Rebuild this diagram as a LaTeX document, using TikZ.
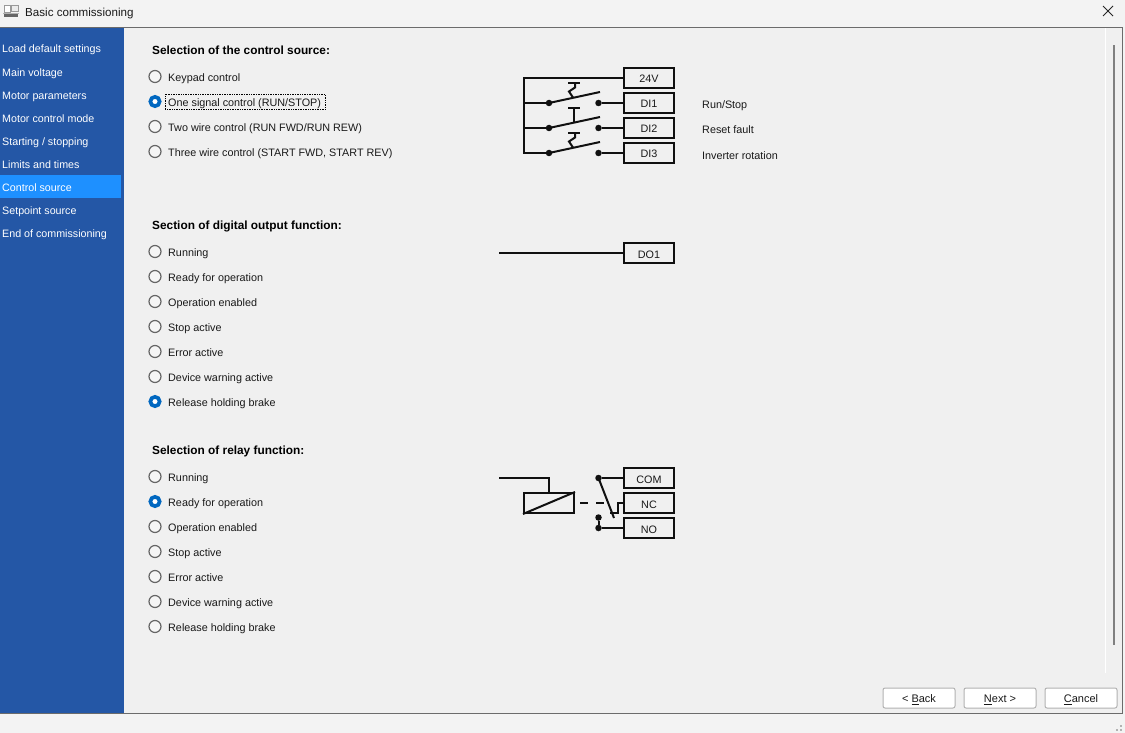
\documentclass[tikz,border=0pt]{standalone}
\usepackage{fontspec}
\setmainfont{Liberation Sans}
\usetikzlibrary{positioning}

\definecolor{panelbg}{HTML}{F0F0F0}
\definecolor{titlebg}{HTML}{F3F3F3}
\definecolor{navblue}{HTML}{2457A6}
\definecolor{navsel}{HTML}{1E90FF}
\definecolor{radioblue}{HTML}{0067C0}
\definecolor{framegray}{HTML}{6B6B6B}
\definecolor{wirecol}{HTML}{101010}

\tikzset{
	navtext/.style={anchor=base west, inner sep=0, text=white, font=\fontsize{10.7}{13}\selectfont},
	itemtext/.style={anchor=base west, inner sep=0, text=black!90, font=\fontsize{10.8}{13}\selectfont},
	headtext/.style={anchor=base west, inner sep=0, text=black, font=\fontsize{11.85}{13}\selectfont\bfseries},
	radio/.style={circle, draw=black!60, fill=black!4, line width=1.2pt, minimum size=12pt, inner sep=0},
	radioon/.style={circle, draw=radioblue, fill=white, line width=3.7pt, minimum size=9.3pt, inner sep=0},
	termbox/.style={draw=wirecol, line width=2pt, minimum width=50pt, minimum height=20pt, inner sep=0, text height=10pt, text depth=0pt, text=black!90, font=\fontsize{10.8}{13}\selectfont},
	dot/.style={circle, fill=wirecol, minimum size=6.5pt, inner sep=0},
	wire/.style={draw=wirecol, line width=2pt},
	btn/.style={draw=black!30, rounded corners=2pt, fill=white, line width=1pt, minimum width=72pt, minimum height=20pt, inner sep=0, text height=9pt, text depth=0pt, text=black!90, font=\fontsize{11}{13}\selectfont},
}

\begin{document}
\begin{tikzpicture}[x=1pt, y=-1pt]

	\useasboundingbox (0,0) rectangle (1125,733);
	\fill[titlebg] (0,0) rectangle (1125,733);

	\fill[panelbg] (0,27) rectangle (1122,713); % content
	\fill[navblue] (0,28) rectangle (124,713); % sidebar
	\fill[navsel] (0,175) rectangle (121,198);
	\draw[framegray, line width=1.2pt] (0,27.5) -- (1122.5,27.5) -- (1122.5,713.5) -- (0,713.5);

	\draw[black!40, line width=.8pt, fill=white] (4.5,5.5) rectangle (10.5,12); % title icon
	\draw[black!40, line width=.8pt, fill=black!8] (11,5) rectangle (18,11);
	\fill[black!60] (4,14) rectangle (18,17);
	\draw[black!30, line width=.6pt] (3,13) -- (19,13);
	\node (title) [itemtext, font=\fontsize{11.6}{14}\selectfont] at (25,16.5) {Basic commissioning};
	\draw[black!85, line width=1pt] (1103,6) -- (1113,16);
	\draw[black!85, line width=1pt] (1113,6) -- (1103,16);

	\node (nav1) [navtext] at (2,53) {Load default settings};
	\node (nav2) [navtext] at (2,76.5) {Main voltage};
	\node (nav3) [navtext] at (2,99.5) {Motor parameters};
	\node (nav4) [navtext] at (2,122.5) {Motor control mode};
	\node (nav5) [navtext] at (2,145.5) {Starting / stopping};
	\node (nav6) [navtext] at (2,168.5) {Limits and times};
	\node (nav7) [navtext] at (2,191.5) {Control source};
	\node (nav8) [navtext] at (2,214.5) {Setpoint source};
	\node (nav9) [navtext] at (2,237.5) {End of commissioning};

	\node (headsrc) [headtext] at (152,55) {Selection of the control source:};
	\node (headdo) [headtext] at (152,229.5) {Section of digital output function:};
	\node (headrel) [headtext] at (152,454.5) {Selection of relay function:};

	\node (src1) [radio] at (155,76.5) {};
	\node (src2) [radioon] at (155,101.5) {};
	\node (src3) [radio] at (155,126.5) {};
	\node (src4) [radio] at (155,151.5) {};
	\node (src1text) [itemtext] at (168,81.3) {Keypad control};
	\node (src2text) [itemtext] at (168,106.3) {One signal control (RUN/STOP)};
	\node (src3text) [itemtext] at (168,131.3) {Two wire control (RUN FWD/RUN REW)};
	\node (src4text) [itemtext] at (168,156.3) {Three wire control (START FWD, START REV)};
	\draw[black, densely dotted, line width=.7pt] (165,94.5) rectangle (325,109.5); % focus

	\node (do1) [radio] at (155,251.5) {};
	\node (do2) [radio] at (155,276.5) {};
	\node (do3) [radio] at (155,301.5) {};
	\node (do4) [radio] at (155,326.5) {};
	\node (do5) [radio] at (155,351.5) {};
	\node (do6) [radio] at (155,376.5) {};
	\node (do7) [radioon] at (155,401.5) {};
	\node (do1text) [itemtext] at (168,256.3) {Running};
	\node (do2text) [itemtext] at (168,281.3) {Ready for operation};
	\node (do3text) [itemtext] at (168,306.3) {Operation enabled};
	\node (do4text) [itemtext] at (168,331.3) {Stop active};
	\node (do5text) [itemtext] at (168,356.3) {Error active};
	\node (do6text) [itemtext] at (168,381.3) {Device warning active};
	\node (do7text) [itemtext] at (168,406.3) {Release holding brake};

	\node (rel1) [radio] at (155,476.5) {};
	\node (rel2) [radioon] at (155,501.5) {};
	\node (rel3) [radio] at (155,526.5) {};
	\node (rel4) [radio] at (155,551.5) {};
	\node (rel5) [radio] at (155,576.5) {};
	\node (rel6) [radio] at (155,601.5) {};
	\node (rel7) [radio] at (155,626.5) {};
	\node (rel1text) [itemtext] at (168,481.3) {Running};
	\node (rel2text) [itemtext] at (168,506.3) {Ready for operation};
	\node (rel3text) [itemtext] at (168,531.3) {Operation enabled};
	\node (rel4text) [itemtext] at (168,556.3) {Stop active};
	\node (rel5text) [itemtext] at (168,581.3) {Error active};
	\node (rel6text) [itemtext] at (168,606.3) {Device warning active};
	\node (rel7text) [itemtext] at (168,631.3) {Release holding brake};

	\node (box24) [termbox] at (649,78) {24V};
	\node (boxdi1) [termbox] at (649,103) {DI1};
	\node (boxdi2) [termbox] at (649,128) {DI2};
	\node (boxdi3) [termbox] at (649,153) {DI3};
	\node (lblrun) [itemtext] at (702,109) {Run/Stop};
	\node (lblreset) [itemtext] at (702,134) {Reset fault};
	\node (lblinv) [itemtext] at (702,159.3) {Inverter rotation};

	\coordinate (bus1) at (524,78);
	\coordinate (bus2) at (524,103);
	\coordinate (bus3) at (524,128);
	\coordinate (bus4) at (524,153);
	\node (sl1) [dot] at (549,103) {};
	\node (sl2) [dot] at (549,128) {};
	\node (sl3) [dot] at (549,153) {};
	\node (sr1) [dot] at (598.5,103) {};
	\node (sr2) [dot] at (598.5,128) {};
	\node (sr3) [dot] at (598.5,153) {};
	\coordinate (tip1) at (600,92);
	\coordinate (tip2) at (600,117);
	\coordinate (tip3) at (600,142);

	\draw[wire] (box24) -- (bus1) -- (bus4) -- (sl3); % supply bus
	\draw[wire] (bus2) -- (sl1);
	\draw[wire] (bus3) -- (sl2);
	\draw[wire] (sl1.center) -- (tip1);
	\draw[wire] (sl2.center) -- (tip2);
	\draw[wire] (sl3.center) -- (tip3);
	\draw[wire] (sr1) -- (boxdi1);
	\draw[wire] (sr2) -- (boxdi2);
	\draw[wire] (sr3) -- (boxdi3);

	\draw[wire] (568,83) -- (580,83); % di1 push button
	\draw[wire] (575,83) -- (575,87.5) -- (569,91.5) -- (573,97.5);
	\draw[wire] (568,108) -- (580,108); % di2 push button
	\draw[wire] (574,108) -- (574,122);
	\draw[wire] (568,133) -- (580,133); % di3 push button
	\draw[wire] (575,133) -- (575,137.5) -- (569,141.5) -- (573,147.5);

	\node (boxdo) [termbox] at (649,253) {DO1};
	\coordinate (dostart) at (499,253);
	\draw[wire] (dostart) -- (boxdo);

	\node (boxcom) [termbox] at (649,478) {COM};
	\node (boxnc) [termbox] at (649,503) {NC};
	\node (boxno) [termbox] at (649,528) {NO};
	\node (coil) [draw=wirecol, line width=2pt, minimum width=50pt, minimum height=20pt, inner sep=0] at (549,503) {};
	\coordinate (coilin) at (499,478);
	\coordinate (coiltop) at (549,478);
	\coordinate (bladeend) at (614,518);
	\coordinate (ncfoot) at (610,513);
	\coordinate (ncmid) at (618,513);
	\coordinate (nctop) at (618,503);
	\coordinate (dashstart) at (580,503);
	\coordinate (dashend) at (606,503);
	\node (dotcom) [dot] at (598.5,478) {};
	\node (dotno1) [dot] at (598.5,517.5) {};
	\node (dotno2) [dot] at (598.5,528) {};

	\draw[wire] (coilin) -- (coiltop) -- (coil.north);
	\draw[wire] (coil.south west) -- (coil.north east);
	\draw[wire, dash pattern=on 8pt off 8pt] (dashstart) -- (dashend);
	\draw[wire] (dotcom) -- (boxcom);
	\draw[wire] (dotcom.center) -- (bladeend);
	\draw[wire] (ncfoot) -- (ncmid) -- (nctop) -- (boxnc);
	\draw[wire] (dotno1) -- (dotno2);
	\draw[wire] (dotno2) -- (boxno);

	\fill[white] (1105,28) rectangle (1106,673); % scroll bar
	\fill[black!50] (1112.5,45) rectangle (1115,645);

	\node (back) [btn] at (919,698) {< \underline{B}ack};
	\node (next) [btn] at (1000,698) {\underline{N}ext >};
	\node (cancel) [btn] at (1081,698) {\underline{C}ancel};

	\fill[black!30] (1120,725) rectangle (1122,727); % grip
	\fill[black!30] (1116,729) rectangle (1118,731);
	\fill[black!30] (1120,729) rectangle (1122,731);

\end{tikzpicture}
\end{document}
